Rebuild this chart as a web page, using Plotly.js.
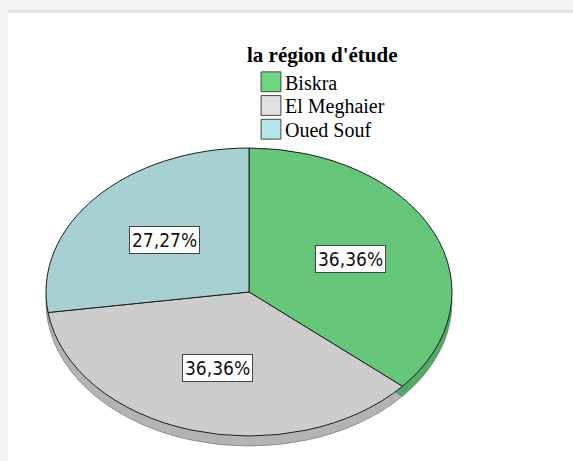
<!DOCTYPE html>
<html><head><meta charset="utf-8">
<script src="https://cdn.plot.ly/plotly-3.0.1.min.js"></script>
<style>
html,body{margin:0;padding:0;background:#fff;}
#chart{width:573px;height:461px;}
.pielayer path.surface{vector-effect:non-scaling-stroke;}
.legend path.legendpie{vector-effect:non-scaling-stroke;}
</style></head><body><div id="chart"></div>
<script>
// ---- data ----
const categories = ['Biskra', 'El Meghaier', 'Oued Souf'];
const counts = [4, 4, 3];
const legendTitle = "la région d'étude";
const topColors = ['#65c679', '#cccccc', '#a6d0d2'];
const sideColors = ['#50aa63', '#b3b3b3', '#8bb4b6'];
const legendColors = ['#6cd681', '#e0e0e0', '#b5e6e8'];

// ---- geometry (layout only) ----
const W = 573, H = 461;
const CX = 249, CY = 292, RX = 203, RY = 144, DEPTH = 10, LABEL_R = 0.55;
const LEGEND_ROW = 23.7;
const squash = RY / RX;

const total = counts.reduce((a, b) => a + b, 0);
const percentLabels = counts.map(v => (100 * v / total).toFixed(2).replace('.', ',') + '%');

const dom = {x: [(CX - RX) / W, (CX + RX) / W], y: [0, 1]};

const shadow = {
  type: 'pie', labels: categories, values: counts, sort: false,
  direction: 'clockwise', rotation: 0, domain: dom,
  marker: {colors: sideColors, line: {color: '#6a6a6a', width: 0.6}},
  textinfo: 'none', showlegend: false, hoverinfo: 'skip'
};
const main = {
  type: 'pie', labels: categories, values: counts, sort: false,
  direction: 'clockwise', rotation: 0, domain: dom,
  marker: {colors: topColors, line: {color: '#1e1e1e', width: 1}},
  textinfo: 'none', hoverinfo: 'label+percent'
};

let cum = 0;
const annotations = categories.map((c, i) => {
  const mid = (cum + counts[i] / 2) / total;
  cum += counts[i];
  const th = Math.PI / 2 - 2 * Math.PI * mid;
  const px = CX + LABEL_R * RX * Math.cos(th);
  const py = CY - LABEL_R * RY * Math.sin(th);
  return {
    xref: 'paper', yref: 'paper', x: px / W, y: 1 - py / H,
    xanchor: 'center', yanchor: 'middle', showarrow: false,
    text: percentLabels[i],
    font: {family: 'DejaVu Sans Condensed, Liberation Sans, sans-serif', size: 19, color: '#111'},
    bgcolor: '#ffffff', bordercolor: '#444444', borderwidth: 1, borderpad: 2
  };
});

const shapes = [
  {type: 'rect', xref: 'paper', yref: 'paper', x0: 0, x1: 1, y0: 1 - 10 / H, y1: 1, fillcolor: '#f4f4f4', line: {width: 0}, layer: 'below'},
  {type: 'rect', xref: 'paper', yref: 'paper', x0: 8 / W, x1: 1, y0: 1 - 13 / H, y1: 1 - 10 / H, fillcolor: '#e3e3e3', line: {width: 0}, layer: 'below'},
  {type: 'rect', xref: 'paper', yref: 'paper', x0: 0, x1: 8 / W, y0: 0, y1: 1 - 10 / H, fillcolor: '#f3f3f3', line: {width: 0}, layer: 'below'}
];

const layout = {
  width: W, height: H,
  margin: {l: 0, r: 0, t: 0, b: 0},
  paper_bgcolor: '#ffffff',
  showlegend: true,
  legend: {
    x: 245 / W, xanchor: 'left', y: 1 - 35 / H, yanchor: 'top',
    bgcolor: 'rgba(0,0,0,0)', traceorder: 'normal',
    title: {text: '<b>' + legendTitle + '</b>', font: {family: 'Liberation Serif, serif', size: 21, color: '#000'}},
    font: {family: 'Liberation Serif, serif', size: 20, color: '#000'}
  },
  annotations: annotations,
  shapes: shapes
};

// elliptical (tilted) look: squash the pie layer vertically, offset the side trace
const ty = CY - squash * (H / 2);
let css = '.pielayer{transform:matrix(1,0,0,' + squash + ',0,' + ty + ');}' +
  '.pielayer .trace:first-child{transform:translate(0px,' + (DEPTH / squash) + 'px);}' +
  '.legend path.legendpie{transform:translate(26px,0px) scale(1.65);stroke:#444 !important;}';
legendColors.forEach((c, i) => {
  css += '.legend .traces:nth-of-type(' + (i + 1) + ') path.legendpie{fill:' + c + ' !important;}';
});
const st = document.createElement('style');
st.textContent = css;
document.head.appendChild(st);

Plotly.newPlot('chart', [shadow, main], layout, {displayModeBar: false, staticPlot: true}).then(() => {
  // tighter legend rows, as in the reference
  const items = document.querySelectorAll('.legend .traces');
  let y0 = null;
  items.forEach((el, i) => {
    const m = /translate\(\s*([-\d.]+)[ ,]+([-\d.]+)\s*\)/.exec(el.getAttribute('transform') || '');
    if (!m) return;
    if (y0 === null) y0 = parseFloat(m[2]);
    el.setAttribute('transform', 'translate(' + m[1] + ',' + (y0 + i * LEGEND_ROW) + ')');
  });
});
</script></body></html>
